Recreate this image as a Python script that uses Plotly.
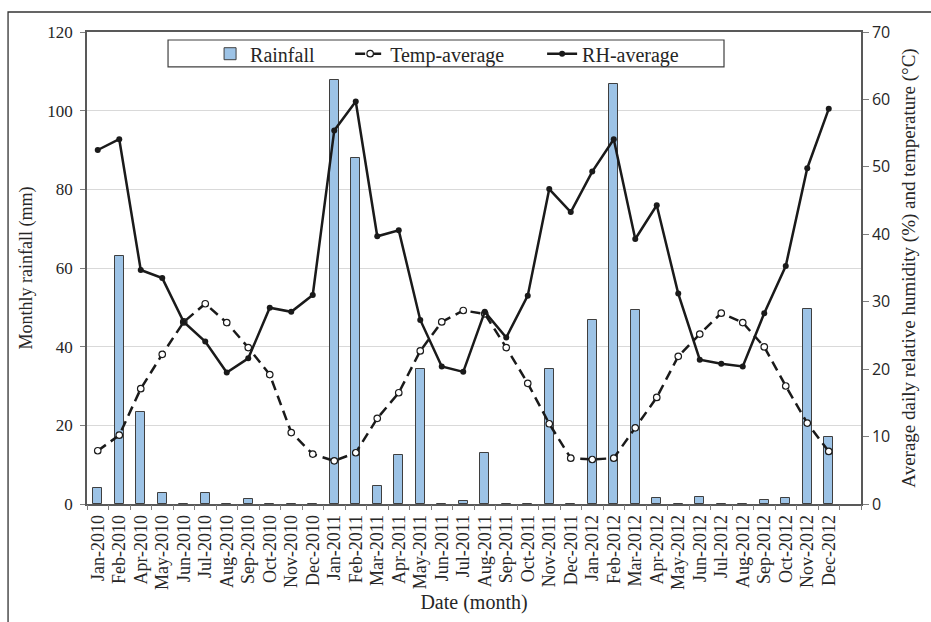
import plotly.graph_objects as go

# Monthly series (note: the record has no Mar-2010 entry)
months = [
    "Jan-2010", "Feb-2010", "Apr-2010", "May-2010", "Jun-2010", "Jul-2010",
    "Aug-2010", "Sep-2010", "Oct-2010", "Nov-2010", "Dec-2010",
    "Jan-2011", "Feb-2011", "Mar-2011", "Apr-2011", "May-2011", "Jun-2011",
    "Jul-2011", "Aug-2011", "Sep-2011", "Oct-2011", "Nov-2011", "Dec-2011",
    "Jan-2012", "Feb-2012", "Mar-2012", "Apr-2012", "May-2012", "Jun-2012",
    "Jul-2012", "Aug-2012", "Sep-2012", "Oct-2012", "Nov-2012", "Dec-2012",
]
rainfall = [
    4.0, 63.1, 23.3, 2.7, 0, 2.7, 0, 1.2, 0, 0, 0,
    107.9, 87.9, 4.5, 12.4, 34.2, 0, 0.7, 12.9, 0, 0, 34.2, 0,
    46.8, 106.9, 49.2, 1.4, 0, 1.7, 0, 0, 0.9, 1.5, 49.6, 17.1,
]
temp_avg = [
    7.9, 10.2, 17.1, 22.2, 27.0, 29.7, 26.9, 23.2, 19.2, 10.6, 7.4,
    6.4, 7.6, 12.7, 16.5, 22.7, 27.0, 28.7, 28.2, 23.2, 17.9, 11.9, 6.8,
    6.6, 6.8, 11.3, 15.8, 21.9, 25.2, 28.3, 26.9, 23.3, 17.5, 12.0, 7.8,
]
rh_avg = [
    52.5, 54.1, 34.7, 33.5, 27.0, 24.1, 19.5, 21.6, 29.1, 28.5, 31.0,
    55.4, 59.7, 39.7, 40.6, 27.3, 20.4, 19.6, 28.5, 24.7, 30.9, 46.7, 43.3,
    49.3, 54.1, 39.3, 44.3, 31.2, 21.4, 20.8, 20.4, 28.3, 35.3, 49.8, 58.6,
]

idx = list(range(len(months)))
n_slots = len(months) + 1          # one spare slot after Dec-2012
boundaries = [i - 0.5 for i in range(n_slots + 1)]

SERIF = "Liberation Serif, Times New Roman, serif"
SANS = "Open Sans, sans-serif"
INK = "#262626"
AXIS = "#595959"

fig = go.Figure()

fig.add_trace(go.Bar(
    x=idx, y=rainfall, name="Rainfall", width=0.42,
    marker=dict(color="#9dc3e6", line=dict(color="#3f3f3f", width=1)),
    xaxis="x", yaxis="y", legend="legend",
))
fig.add_trace(go.Scatter(
    x=idx, y=temp_avg, name="Temp-average", mode="lines+markers",
    line=dict(color="#1a1a1a", width=2.5, dash="10px,6px"),
    marker=dict(symbol="circle", size=6.5, color="white",
                line=dict(color="#1a1a1a", width=1.2)),
    xaxis="x", yaxis="y2", legend="legend2",
))
fig.add_trace(go.Scatter(
    x=idx, y=rh_avg, name="RH-average", mode="lines+markers",
    line=dict(color="#1a1a1a", width=2.5),
    marker=dict(symbol="circle", size=6, color="#1a1a1a"),
    xaxis="x", yaxis="y2", legend="legend3",
))
# carrier for the boundary tick axis
fig.add_trace(go.Scatter(
    x=[0], y=[0], mode="markers", marker=dict(opacity=0),
    showlegend=False, hoverinfo="skip", xaxis="x3", yaxis="y",
))

x_range = [-0.5, n_slots - 0.5]

legend_common = dict(
    orientation="h", yanchor="middle", xanchor="left", y=0.954,
    bgcolor="rgba(0,0,0,0)", borderwidth=0,
    font=dict(family=SERIF, size=20, color=INK),
)

fig.update_layout(
    width=931, height=622,
    margin=dict(l=87, r=70, t=32, b=118),
    paper_bgcolor="white", plot_bgcolor="white",
    bargap=0,
    xaxis=dict(
        range=x_range, tickmode="array", tickvals=idx, ticktext=months,
        tickangle=-90, ticks="", ticklabelstandoff=2,
        tickfont=dict(family=SERIF, size=18, color=INK),
        showgrid=False, zeroline=False,
        showline=True, linecolor=AXIS, linewidth=1.5, mirror=True,
        title=dict(text="Date (month)", standoff=6,
                   font=dict(family=SERIF, size=20, color=INK)),
    ),
    xaxis3=dict(
        range=x_range, overlaying="x", anchor="y", side="bottom",
        tickmode="array", tickvals=boundaries, ticks="outside",
        ticklen=5, tickcolor="#7f7f7f", showticklabels=False,
        showgrid=False, zeroline=False, showline=False,
    ),
    yaxis=dict(
        range=[0, 120], tickmode="linear", dtick=20,
        ticks="outside", ticklen=5, tickcolor="#7f7f7f", ticklabelstandoff=4,
        tickfont=dict(family=SERIF, size=17, color=INK),
        showgrid=True, gridcolor="#d9d9d9", gridwidth=1,
        zeroline=False, showline=True, linecolor=AXIS, linewidth=1.5,
        title=dict(text="Monthly rainfall (mm)", standoff=10,
                   font=dict(family=SERIF, size=18, color=INK)),
    ),
    yaxis2=dict(
        range=[0, 70], tickmode="linear", dtick=10,
        overlaying="y", side="right", anchor="x",
        ticks="outside", ticklen=6, tickcolor="#7f7f7f",
        tickfont=dict(family=SANS, size=16, color=INK),
        showgrid=False, zeroline=False,
        showline=True, linecolor=AXIS, linewidth=1.5,
        title=dict(text="Average daily relative humidity (%) and temperature (°C)",
                   standoff=12, font=dict(family=SERIF, size=19, color=INK)),
    ),
    legend=dict(x=0.159, **legend_common),
    legend2=dict(x=0.340, **legend_common),
    legend3=dict(x=0.588, **legend_common),
    shapes=[
        # legend frame
        dict(type="rect", xref="paper", yref="paper",
             x0=0.1047, x1=0.823, y0=0.926, y1=0.983,
             line=dict(color="#404040", width=1.2), fillcolor="rgba(0,0,0,0)",
             layer="above"),
        # outer figure frame
        dict(type="rect", xref="paper", yref="paper",
             x0=-0.102, x1=1.15, y0=-0.4, y1=1.0424,
             line=dict(color="#333333", width=1.3), fillcolor="rgba(0,0,0,0)"),
    ],
)

fig.write_html("out.html")
